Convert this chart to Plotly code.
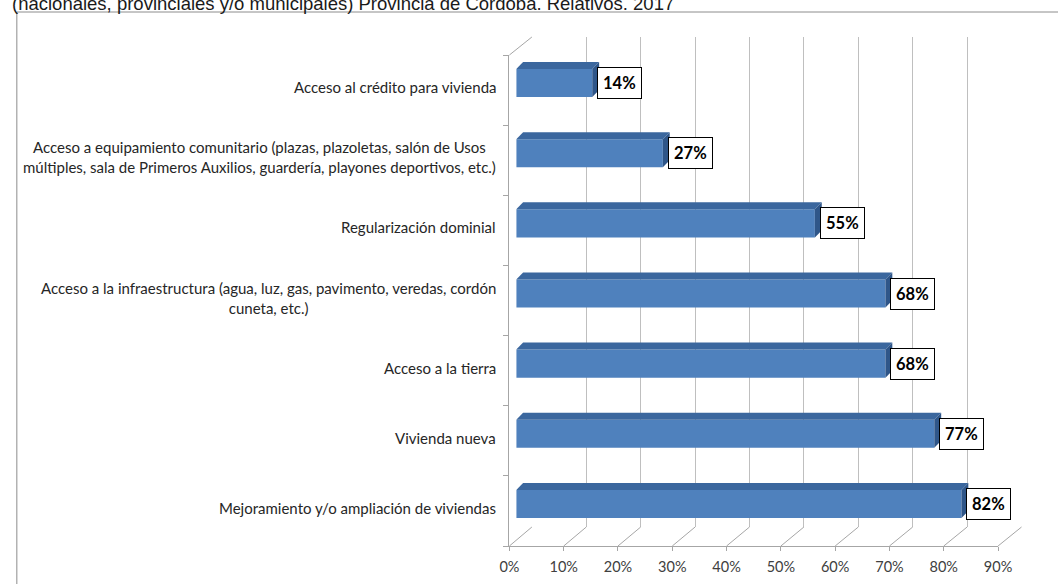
import plotly.graph_objects as go

# ---------------- data ----------------
categories = [
    "Acceso al crédito para vivienda",
    "Acceso a equipamiento comunitario (plazas, plazoletas, salón de Usos<br>múltiples, sala de Primeros Auxilios, guardería, playones deportivos, etc.)",
    "Regularización dominial",
    "Acceso a la infraestructura (agua, luz, gas, pavimento, veredas, cordón<br>cuneta, etc.)",
    "Acceso a la tierra",
    "Vivienda nueva",
    "Mejoramiento y/o ampliación de viviendas",
]
values = [0.14, 0.27, 0.55, 0.68, 0.68, 0.77, 0.82]
value_labels = ["14%", "27%", "55%", "68%", "68%", "77%", "82%"]
tick_vals = [0, 0.1, 0.2, 0.3, 0.4, 0.5, 0.6, 0.7, 0.8, 0.9]
tick_text = ["0%", "10%", "20%", "30%", "40%", "50%", "60%", "70%", "80%", "90%"]
title_text = "(nacionales, provinciales y/o municipales) Provincia de Córdoba. Relativos. 2017"

# ---------------- layout geometry (pixels) ----------------
W, H = 1058, 584
def px(x):
    return x / W
def py(y):
    return 1 - y / H

n = len(categories)
pos = [n - 1 - i for i in range(n)]
XMAX = 0.9

# front floor layer
F_X0, F_X1, F_YB, F_YT = 511, 1011, 546, 55
# bar layer
B_X0, B_X1, B_YB, B_YT = 518, 1018, 539, 48
# back wall layer
K_X0, K_X1, K_YB, K_YT = 534, 1035, 527, 37

bar_w = 0.4
dx = 7 / ((B_X1 - B_X0) / XMAX)          # depth in x data units
dy = 7 / ((B_YB - B_YT) / n)             # depth in y data units

front_col = "#4F81BD"
top_col = "#3B679E"
side_col = "#2F5689"
grid_col = "#BFBFBF"
axis_col = "#A6A6A6"

fig = go.Figure()

# invisible trace on back-wall axes so gridlines render
fig.add_trace(go.Scatter(x=[0], y=[0], xaxis="x", yaxis="y", mode="markers",
                         marker=dict(opacity=0), hoverinfo="skip", showlegend=False))

# bar front faces
fig.add_trace(go.Bar(x=values, y=pos, orientation="h", width=bar_w,
                     marker=dict(color=front_col, line=dict(width=0)),
                     xaxis="x2", yaxis="y2", showlegend=False))

# top and right faces (3D effect) computed from values
for v, p in zip(values, pos):
    yt = p + bar_w / 2
    yb = p - bar_w / 2
    fig.add_trace(go.Scatter(
        x=[0, dx, v + dx, v, 0], y=[yt, yt + dy, yt + dy, yt, yt],
        fill="toself", fillcolor=top_col, mode="lines", line=dict(width=0),
        xaxis="x2", yaxis="y2", hoverinfo="skip", showlegend=False))
    fig.add_trace(go.Scatter(
        x=[v, v + dx, v + dx, v, v], y=[yb, yb + dy, yt + dy, yt, yb],
        fill="toself", fillcolor=side_col, mode="lines", line=dict(width=0),
        xaxis="x2", yaxis="y2", hoverinfo="skip", showlegend=False))

# invisible trace on front axes
fig.add_trace(go.Scatter(x=[0], y=[0], xaxis="x3", yaxis="y3", mode="markers",
                         marker=dict(opacity=0), hoverinfo="skip", showlegend=False))

annotations = []
# value labels
for v, p, t in zip(values, pos, value_labels):
    annotations.append(dict(
        x=v, y=p, xref="x2", yref="y2", text="<b>%s</b>" % t, showarrow=False,
        xanchor="left", yanchor="middle", xshift=5,
        bgcolor="white", bordercolor="black", borderwidth=1, borderpad=5,
        font=dict(family="Lato", size=16.5, color="black")))
# category labels
for c, p in zip(categories, pos):
    annotations.append(dict(
        x=px(499), y=p, xref="paper", yref="y2", text=c, showarrow=False,
        xanchor="right", yanchor="middle", align="center", yshift=-4,
        font=dict(family="Lato", size=15, color="#262626")))
# clipped title
annotations.append(dict(
    x=0, y=py(3.5), xref="paper", yref="paper", text=title_text, showarrow=False,
    xanchor="left", yanchor="middle",
    font=dict(family="Liberation Sans", size=18.5, color="#1a1a1a")))

shapes = []
# outer frame (top and left edges; the rest lies beyond the picture)
shapes.append(dict(type="line", xref="paper", yref="paper",
                   x0=px(7), y0=py(12), x1=px(1100), y1=py(12),
                   line=dict(color="#8C8C8C", width=1)))
shapes.append(dict(type="line", xref="paper", yref="paper",
                   x0=px(7), y0=py(12), x1=px(7), y1=py(620),
                   line=dict(color="#8C8C8C", width=1)))
# floor diagonals from front ticks to back gridlines
for t in tick_vals:
    fx = F_X0 + t / XMAX * (F_X1 - F_X0)
    kx = K_X0 + t / XMAX * (K_X1 - K_X0)
    shapes.append(dict(type="line", xref="paper", yref="paper",
                       x0=px(fx), y0=py(F_YB), x1=px(kx), y1=py(K_YB),
                       line=dict(color=axis_col, width=1)))
# left wall top diagonal
shapes.append(dict(type="line", xref="paper", yref="paper",
                   x0=px(F_X0), y0=py(F_YT), x1=px(K_X0), y1=py(K_YT),
                   line=dict(color=axis_col, width=1)))

boundaries = [i - 0.5 for i in range(n + 1)]

fig.update_layout(
    width=W, height=H,
    margin=dict(l=0, r=0, t=0, b=0),
    paper_bgcolor="white", plot_bgcolor="rgba(0,0,0,0)",
    showlegend=False,
    annotations=annotations, shapes=shapes,
    # back wall
    xaxis=dict(domain=[px(K_X0), px(K_X1)], range=[0, XMAX], anchor="y",
               tickvals=tick_vals, showticklabels=False, ticks="",
               showgrid=True, gridcolor=grid_col, gridwidth=1,
               zeroline=False, showline=False, fixedrange=True),
    yaxis=dict(domain=[py(K_YB), py(K_YT)], range=[0, 1], anchor="x",
               showgrid=False, zeroline=False, showticklabels=False, showline=False),
    # bars
    xaxis2=dict(domain=[px(B_X0), px(B_X1)], range=[0, XMAX], anchor="y2",
                visible=False),
    yaxis2=dict(domain=[py(B_YB), py(B_YT)], range=[-0.5, n - 0.5], anchor="x2",
                visible=False),
    # front floor / left wall
    xaxis3=dict(domain=[px(F_X0), px(F_X1)], range=[0, XMAX], anchor="y3",
                tickvals=tick_vals, ticktext=tick_text, ticks="outside", ticklen=4,
                tickcolor=axis_col, showline=True, linecolor=axis_col, linewidth=1,
                showgrid=False, zeroline=False, ticklabelstandoff=4,
                tickfont=dict(family="Lato", size=14.5, color="#404040")),
    yaxis3=dict(domain=[py(F_YB), py(F_YT)], range=[-0.5, n - 0.5], anchor="x3",
                tickvals=boundaries, ticks="outside", ticklen=5, tickcolor=axis_col,
                showticklabels=False, showline=True, linecolor=axis_col, linewidth=1,
                showgrid=False, zeroline=False),
)

fig.write_html("out.html")
